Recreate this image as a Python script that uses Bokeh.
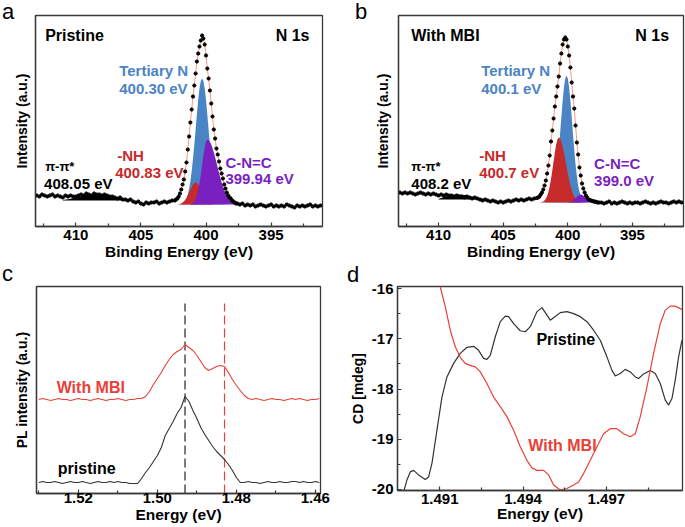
import numpy as np
from bokeh.plotting import figure
from bokeh.models import FixedTicker, Label, Range1d, PrintfTickFormatter, Div
from bokeh.layouts import column, row
from bokeh.embed import file_html
from bokeh.resources import INLINE

FONT = "Liberation Sans"
FRAME = "#3a3a3a"
BLUE = "#4a84c4"
RED = "#c62a2a"
PURPLE = "#7a1fc0"
FIT = "#f29a86"
PL_RED = "#e8403a"

# ---------------- Panel a : pristine, XPS N 1s (intensity a.u.) ----------------
a_left_start, a_left_step = 413.0, -0.2
a_left = [31, 30, 32, 31, 30, 31, 32, 30, 31, 30, 29, 31, 30, 31, 30, 30, 31, 32, 31, 33,
          32, 31, 33, 32, 32, 31, 32, 31, 30, 30, 29, 28, 29, 27, 27, 26, 27, 25, 24, 25,
          23, 22, 24, 23, 24, 24, 25, 23, 24, 25, 24, 25, 26]
a_peak_start, a_peak_step = 402.4, -0.1
a_peak = [26, 27, 28, 30, 33, 37, 42, 47, 55, 64, 77, 90, 104, 117, 130, 141, 153, 165, 173, 180,
          186, 191, 188, 182, 171, 158, 148, 136, 123, 110, 97, 88, 78, 72, 65, 58, 53, 48, 42, 38,
          34, 31, 29, 28, 26, 25, 24, 23, 23]
a_right_start, a_right_step = 397.4, -0.2
a_right = [22, 23, 21, 22, 21, 22, 20, 21, 22, 21, 20, 21, 22, 20, 21, 20, 21, 20, 22, 21,
           20, 19, 21, 20, 21, 20, 21, 22, 20, 21, 20, 21]

comp_start, comp_step = 402.6, -0.1
a_bg = 22
a_tertiary = [22, 22, 22, 22, 22.1, 22.1, 22.3, 22.6, 23.1, 24.1, 25.8, 28.3, 32.1, 37.7, 45.3, 55.2,
              67.4, 81.5, 96.8, 112.3, 126.5, 138, 145.4, 148, 145.4, 138, 126.5, 112.3, 96.8, 81.5,
              67.4, 55.2, 45.3, 37.7, 32.1, 28.3, 25.8, 24.1, 23.1, 22.6, 22.3, 22.1, 22, 22, 22, 22,
              22, 22, 22, 22, 22]
a_nh = [22, 22, 22, 22.1, 22.1, 22.3, 22.6, 23.1, 23.9, 25.0, 26.5, 28.6, 31.0, 33.9, 36.8, 39.6,
        41.9, 43.5, 44, 43.5, 41.9, 39.6, 36.8, 33.9, 31.0, 28.6, 26.5, 25.0, 23.9, 23.1, 22.6, 22.3,
        22.1, 22.1, 22, 22, 22, 22, 22, 22, 22, 22, 22, 22, 22, 22, 22, 22, 22, 22, 22]
a_cnc = [22, 22, 22, 22, 22, 22, 22, 22, 22, 22, 22, 22, 22, 22, 22.3, 22.7, 23.5, 24.9, 27.2, 30.8,
         36.1, 43.1, 51.8, 61.4, 71.1, 79.3, 85.0, 87, 86.4, 84.7, 82.0, 78.4, 74.1, 69.2, 64.1, 58.8,
         53.7, 48.7, 44.2, 40.1, 36.5, 33.4, 30.8, 28.7, 27.0, 25.6, 24.6, 23.8, 23.3, 22.9, 22.6]
a_pp_x = [411.0, 410.5, 410.0, 409.5, 409.0, 408.5, 408.0, 407.5, 407.0, 406.5, 406.0]
a_pp_top = [26.5, 27.5, 29, 30.5, 32, 32.5, 32, 30.5, 29, 27.5, 26.5]
a_pp_bg = 26

# ---------------- Panel b : with MBI, XPS N 1s ----------------
b_left = [34, 33, 34, 33, 34, 33, 32, 33, 34, 33, 32, 33, 32, 33, 32, 31, 32, 31, 32, 31,
          31, 30, 31, 30, 30, 29, 30, 29, 28, 29, 28, 27, 26, 27, 26, 25, 26, 25, 24, 25,
          24, 25, 26, 25, 26, 27, 26, 27, 26, 27, 28, 27, 28]
b_peak = [28.5, 29, 30, 32, 34, 37, 41, 46, 53, 61, 71, 85, 96, 108, 120, 130, 140, 150, 163, 173,
          182, 187, 189, 187, 180, 171, 159, 144, 130, 118, 101, 84, 72, 59, 51, 43, 38, 34, 31, 29,
          27, 26.5, 26, 25.5, 25, 25, 24.5, 24, 24]
b_right = [24, 23, 24, 25, 23, 24, 23, 24, 25, 24, 23, 24, 23, 24, 24, 23, 24, 25, 24, 23,
           24, 23, 24, 25, 24, 24, 23, 24, 25, 24, 25, 24]
b_bg = 24
b_tertiary = [24, 24, 24, 24, 24, 24, 24, 24, 24.1, 24.2, 24.5, 25.0, 25.9, 27.7, 30.4, 34.8, 41.1,
              50.2, 61.8, 76.2, 92.5, 109.6, 125.7, 139, 148, 151, 148, 139, 125.7, 109.6, 92.5, 76.2,
              61.8, 50.2, 41.1, 34.8, 30.4, 27.7, 25.9, 25.0, 24.5, 24.2, 24.1, 24, 24, 24, 24, 24,
              24, 24, 24]
b_nh = [24, 24, 24, 24, 24, 24.2, 24.5, 25.1, 26.1, 27.8, 30.6, 34.6, 40.2, 47.5, 56.0, 65.3, 74.4,
        82.0, 87.2, 89, 88, 84.8, 80.0, 73.9, 67.0, 59.9, 52.9, 46.6, 41.0, 36.4, 32.8, 30.0, 28.0,
        26.5, 25.6, 24.9, 24.5, 24.2, 24, 24, 24, 24, 24, 24, 24, 24, 24, 24, 24, 24, 24]
b_cnc = [24, 24, 24, 24, 24, 24, 24, 24, 24, 24, 24, 24, 24, 24, 24, 24, 24, 24, 24, 24, 24, 24, 24,
         24, 24, 24, 24.1, 24.3, 24.6, 25.1, 25.8, 26.9, 28.2, 29.5, 30.8, 31.7, 32, 31.7, 30.8, 29.5,
         28.2, 26.9, 25.8, 25.1, 24.6, 24.3, 24.1, 24, 24, 24, 24]
b_pp_x = [410.0, 409.5, 409.0, 408.5, 408.0, 407.5, 407.0, 406.5, 406.0]
b_pp_top = [27.5, 30, 31.5, 32, 31.5, 30, 28.5, 27.5, 27]
b_pp_bg = 27

# ---------------- Panel c : PL ----------------
pl_start, pl_step = 1.530, -0.001
pl_pristine = [11, 12, 11, 11, 12, 11, 10, 11, 12, 11, 11, 12, 11, 10, 11, 12, 11, 11, 12, 11,
               12, 11, 11, 10, 10,
               10, 15, 21, 26, 32, 38, 46, 58, 65, 72, 80, 86, 97, 92, 83, 75, 66, 59, 53, 47,
               42, 38, 34, 29, 23, 16, 11,
               11, 12, 11, 11, 10, 11, 12, 11, 11, 12, 11, 11, 12, 12, 11, 12, 11, 11, 12, 11]
pl_mbi = [94, 95, 94, 93, 94, 95, 94, 94, 93, 94, 95, 94, 94, 93, 94, 95, 94, 93, 94, 94,
          95, 94, 93, 94, 94, 95,
          95, 97, 102, 109, 115, 121, 128, 134, 139, 142, 144, 149, 146, 143, 138, 132, 126, 123,
          125, 127, 128, 127, 121, 114, 108, 103, 98, 95,
          94, 95, 94, 93, 94, 95, 94, 94, 93, 94, 95, 94, 95, 94, 93, 94, 94, 95]
pl_marks = [1.4930, 1.4830]
pl_mark_top = 190

# ---------------- Panel d : CD ----------------
cd_pristine_x = [1.48970, 1.48982, 1.48994, 1.49006, 1.49024, 1.49048, 1.49060, 1.49072, 1.49090,
                 1.49108, 1.49126, 1.49150, 1.49174, 1.49198, 1.49222, 1.49240, 1.49258, 1.49270,
                 1.49282, 1.49300, 1.49318, 1.49336, 1.49348, 1.49366, 1.49390, 1.49408, 1.49426,
                 1.49450, 1.49468, 1.49486, 1.49498, 1.49510, 1.49534, 1.49558, 1.49582, 1.49606,
                 1.49630, 1.49654, 1.49678, 1.49702, 1.49720, 1.49732, 1.49750, 1.49768, 1.49786,
                 1.49804, 1.49816, 1.49834, 1.49858, 1.49876, 1.49894, 1.49912, 1.49924, 1.49936,
                 1.49948, 1.49960, 1.49972]
cd_pristine_y = [-20.05, -19.81, -19.65, -19.62, -19.71, -19.80, -19.75, -19.48, -18.82, -18.16,
                 -17.76, -17.49, -17.29, -17.17, -17.15, -17.23, -17.39, -17.41, -17.33, -16.96,
                 -16.66, -16.55, -16.56, -16.70, -16.84, -16.86, -16.76, -16.46, -16.38, -16.53,
                 -16.63, -16.58, -16.48, -16.46, -16.50, -16.56, -16.66, -16.83, -17.03, -17.36,
                 -17.63, -17.74, -17.69, -17.61, -17.66, -17.76, -17.79, -17.70, -17.63, -17.69,
                 -17.89, -18.22, -18.32, -18.19, -17.82, -17.36, -17.03]
cd_mbi_x = [1.49094, 1.49102, 1.49120, 1.49138, 1.49156, 1.49174, 1.49192, 1.49210, 1.49228,
            1.49246, 1.49270, 1.49294, 1.49318, 1.49342, 1.49366, 1.49390, 1.49414, 1.49432,
            1.49450, 1.49474, 1.49492, 1.49510, 1.49534, 1.49558, 1.49582, 1.49600, 1.49618,
            1.49642, 1.49666, 1.49690, 1.49714, 1.49738, 1.49762, 1.49786, 1.49804, 1.49822,
            1.49846, 1.49870, 1.49894, 1.49912, 1.49930, 1.49948, 1.49966, 1.49972]
cd_mbi_y = [-15.80, -15.97, -16.36, -16.83, -17.16, -17.37, -17.49, -17.53, -17.56, -17.66,
            -17.89, -18.16, -18.35, -18.55, -18.82, -19.15, -19.42, -19.57, -19.62, -19.62,
            -19.71, -19.91, -20.01, -19.98, -19.91, -19.85, -19.68, -19.42, -19.15, -18.89,
            -18.79, -18.79, -18.89, -18.95, -18.89, -18.55, -17.96, -17.29, -16.70, -16.43,
            -16.35, -16.35, -16.40, -16.42]

xps_ticks = [395, 400, 405, 410]
xps_minor = [392.5, 397.5, 402.5, 407.5, 412.5]
pl_ticks = [1.46, 1.48, 1.50, 1.52]
pl_minor = [1.47, 1.49, 1.51, 1.53]
cd_xticks = [1.491, 1.494, 1.497]
cd_xminor = [1.4925, 1.4955, 1.4985]
cd_yticks = [-20, -19, -18, -17, -16]
cd_yminor = [-19.5, -18.5, -17.5, -16.5]
panel_letters = ["a", "b", "c", "d"]


def grid(start, step, vals):
    return start + step * np.arange(len(vals))


def style(p):
    p.outline_line_color = FRAME
    p.outline_line_width = 1.3
    p.xgrid.grid_line_color = None
    p.ygrid.grid_line_color = None
    p.background_fill_color = "white"
    p.border_fill_color = "white"
    for ax in (p.xaxis[0], p.yaxis[0]):
        ax.axis_line_color = FRAME
        ax.axis_line_width = 1.3
        ax.major_tick_in = 4
        ax.major_tick_out = 0
        ax.minor_tick_in = 3
        ax.minor_tick_out = 0
        ax.major_tick_line_color = FRAME
        ax.minor_tick_line_color = FRAME
        ax.major_tick_line_width = 1.2
        ax.minor_tick_line_width = 1.2
        ax.major_label_text_font = FONT
        ax.major_label_text_font_style = "bold"
        ax.major_label_text_font_size = "15px"
        ax.major_label_text_color = "black"
        ax.axis_label_text_font = FONT
        ax.axis_label_text_font_style = "bold"
        ax.axis_label_text_color = "black"
    p.xaxis[0].axis_label_text_font_size = "15.5px"
    p.yaxis[0].axis_label_text_font_size = "14px"


def txt(p, x, y, s, color="black", size="15px", align="left"):
    p.add_layout(Label(x=x, y=y, text=s, text_font=FONT,
                       text_font_style="bold", text_font_size=size, text_color=color,
                       text_align=align, text_baseline="middle"))


def xps(left, peak, right, bg, tert, nh, cnc, pp_x, pp_top, pp_bg, border_left, border_right,
        fw, ylab_standoff):
    p = figure(x_range=Range1d(413.1, 391.05), y_range=Range1d(0, 211),
               frame_width=fw, frame_height=211,
               min_border_left=border_left, min_border_right=border_right,
               min_border_top=15, min_border_bottom=44,
               toolbar_location=None, output_backend="svg", title=None,
               x_axis_label="Binding Energy (eV)", y_axis_label="Intensity (a.u.)")
    style(p)
    p.xaxis.ticker = FixedTicker(ticks=xps_ticks, minor_ticks=xps_minor)
    p.yaxis.ticker = FixedTicker(ticks=[], minor_ticks=[])
    p.xaxis.major_label_standoff = 3
    p.xaxis.axis_label_standoff = 0
    p.yaxis.major_label_standoff = 0
    p.yaxis.axis_label_standoff = ylab_standoff

    xc = grid(comp_start, comp_step, tert)
    p.varea(x=xc, y1=bg, y2=tert, fill_color=BLUE)
    p.varea(x=xc, y1=bg, y2=nh, fill_color=RED)
    p.varea(x=xc, y1=bg, y2=cnc, fill_color=PURPLE)
    p.varea(x=pp_x, y1=pp_bg, y2=pp_top, fill_color="black")

    x = np.concatenate([grid(a_left_start, a_left_step, left),
                        grid(a_peak_start, a_peak_step, peak),
                        grid(a_right_start, a_right_step, right)])
    y = np.concatenate([left, peak, right])
    p.line(x, y, line_color=FIT, line_width=1)
    p.scatter(x, y, size=3.2, fill_color="black", line_color="black")
    return p


# Panel a
pa = xps(a_left, a_peak, a_right, a_bg, a_tertiary, a_nh, a_cnc, a_pp_x, a_pp_top, a_pp_bg,
         35, 23, 287, 6)
txt(pa, 412.36, 191, "Pristine", size="16px")
txt(pa, 392.05, 191, "N 1s", size="16px", align="right")
txt(pa, 406.67, 156, "Tertiary N", color=BLUE)
txt(pa, 406.67, 138, "400.30 eV", color=BLUE)
txt(pa, 406.82, 71, "-NH", color=RED)
txt(pa, 406.98, 54, "400.83 eV", color=RED)
txt(pa, 398.51, 64, "C-N=C", color=PURPLE)
txt(pa, 398.51, 48, "399.94 eV", color=PURPLE)
txt(pa, 412.36, 60, "π-π*", size="13px")
txt(pa, 412.44, 43, "408.05 eV")

# Panel b
pb = xps(b_left, b_peak, b_right, b_bg, b_tertiary, b_nh, b_cnc, b_pp_x, b_pp_top, b_pp_bg,
         53, 2, 285, 8)
txt(pb, 412.11, 191, "With MBI", size="16px")
txt(pb, 392.17, 191, "N 1s", size="16px", align="right")
txt(pb, 406.70, 156, "Tertiary N", color=BLUE)
txt(pb, 406.70, 138, "400.1 eV", color=BLUE)
txt(pb, 406.86, 71, "-NH", color=RED)
txt(pb, 406.86, 54, "400.7 eV", color=RED)
txt(pb, 397.97, 63, "C-N=C", color=PURPLE)
txt(pb, 397.97, 46, "399.0 eV", color=PURPLE)
txt(pb, 412.11, 60, "π-π*", size="13px")
txt(pb, 412.11, 43, "408.2 eV")

# Panel c
pc = figure(x_range=Range1d(1.5306, 1.4587), y_range=Range1d(0, 207),
            frame_width=284, frame_height=207,
            min_border_left=36, min_border_right=25, min_border_top=16, min_border_bottom=34,
            toolbar_location=None, output_backend="svg", title=None,
            x_axis_label="Energy (eV)", y_axis_label="PL intensity (a.u.)")
style(pc)
pc.xaxis.ticker = FixedTicker(ticks=pl_ticks, minor_ticks=pl_minor)
pc.xaxis.formatter = PrintfTickFormatter(format="%.2f")
pc.yaxis.ticker = FixedTicker(ticks=[], minor_ticks=[])
pc.xaxis.major_label_standoff = -1
pc.xaxis.axis_label_standoff = 0
pc.yaxis.major_label_standoff = 0
pc.yaxis.axis_label_standoff = 7
xpl = grid(pl_start, pl_step, pl_pristine)
xpl2 = grid(pl_start, pl_step, pl_mbi)
pc.segment(x0=[pl_marks[0]], y0=[0], x1=[pl_marks[0]], y1=[pl_mark_top],
           line_color="#333333", line_width=1.3, line_dash="9 4")
pc.segment(x0=[pl_marks[1]], y0=[0], x1=[pl_marks[1]], y1=[pl_mark_top],
           line_color=PL_RED, line_width=1.2, line_dash="9 4")
pc.line(xpl, pl_pristine, line_color="#333333", line_width=1.1)
pc.line(xpl2, pl_mbi, line_color=PL_RED, line_width=1.1)
txt(pc, 1.5255, 106, "With MBI", color=PL_RED, size="16px")
txt(pc, 1.5252, 25, "pristine", size="16px")

# Panel d
pd = figure(x_range=Range1d(1.48948, 1.49974), y_range=Range1d(-20.02, -15.96),
            frame_width=285, frame_height=204,
            min_border_left=52, min_border_right=3, min_border_top=16, min_border_bottom=37,
            toolbar_location=None, output_backend="svg", title=None,
            x_axis_label="Energy (eV)", y_axis_label="CD [mdeg]")
style(pd)
pd.xaxis.ticker = FixedTicker(ticks=cd_xticks, minor_ticks=cd_xminor)
pd.xaxis.formatter = PrintfTickFormatter(format="%.3f")
pd.yaxis.ticker = FixedTicker(ticks=cd_yticks, minor_ticks=cd_yminor)
pd.yaxis.major_label_overrides = {t: str(t) for t in cd_yticks}
pd.xaxis.major_label_standoff = 3
pd.xaxis.axis_label_standoff = -2
pd.yaxis.major_label_standoff = 4
pd.yaxis.axis_label_standoff = 3
pd.line(cd_pristine_x, cd_pristine_y, line_color="#333333", line_width=1.2)
pd.line(cd_mbi_x, cd_mbi_y, line_color=PL_RED, line_width=1.2)
txt(pd, 1.49448, -17.01, "Pristine", size="16px")
txt(pd, 1.49419, -19.12, "With MBI", color=PL_RED, size="16px")

# Panel letters: an overlay of plain text placed over the four panels
spots = [(2, 1), (355, 1), (2, 263), (347, 264)]
html = "".join(
    '<span style="position:absolute;left:%dpx;top:%dpx;">%s</span>' % (sx, sy, s)
    for (sx, sy), s in zip(spots, panel_letters))
letters = Div(text=html, width=685, height=527, margin=(-527, 0, 0, 0),
              styles={"font-family": FONT, "font-size": "22px", "line-height": "22px",
                      "color": "black", "position": "relative", "z-index": "10",
                      "pointer-events": "none"})

layout = column(row(pa, pb), row(pc, pd), letters)
open("out.html", "w").write(file_html(layout, INLINE))
